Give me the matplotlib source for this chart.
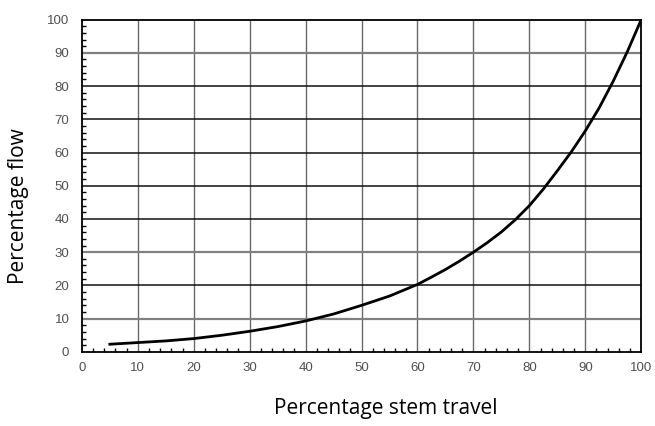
import matplotlib
import matplotlib.pyplot as plt
from matplotlib.ticker import MultipleLocator

matplotlib.use("Agg")

# stem travel (%) and flow (%)
travel = [5, 10, 15, 20, 25, 30, 35, 40, 45, 50, 55, 60, 62.5, 65, 67.5, 70,
          72.5, 75, 77.5, 80, 82.5, 85, 87.5, 90, 92.5, 95, 97.5, 100]
flow = [2.3, 2.8, 3.3, 4.0, 5.0, 6.2, 7.6, 9.3, 11.4, 14.0, 16.8, 20.3, 22.5, 24.8,
        27.3, 30.0, 32.9, 36.1, 39.8, 44.0, 49.0, 54.5, 60.2, 66.5, 73.5, 81.5,
        90.3, 100.0]

ticks = list(range(0, 101, 10))
dark_grid = [20, 40, 50, 60, 70, 80]   # horizontal lines that look black
grey_grid = [10, 30, 90]

fig = plt.figure(figsize=(6.55, 4.26), dpi=100)
ax = fig.add_axes([0.125, 0.174, 0.854, 0.780])

ax.set_xlim(0, 100)
ax.set_ylim(0, 100)

for v in ticks[1:-1]:
    ax.axvline(v, color="#6a6a6a", lw=1.0, zorder=1)
for v in dark_grid:
    ax.axhline(v, color="#111111", lw=1.1, zorder=1)
for v in grey_grid:
    ax.axhline(v, color="#808080", lw=1.6, zorder=1)

ax.plot(travel, flow, color="black", lw=2.0, zorder=3)

ax.set_xticks(ticks)
ax.set_yticks(ticks)
ax.xaxis.set_minor_locator(MultipleLocator(2))
ax.yaxis.set_minor_locator(MultipleLocator(2))
ax.tick_params(which="both", direction="in", top=False, right=False,
               labelsize=9.5, labelcolor="#505050", width=1.0)
ax.tick_params(which="major", length=0)
ax.tick_params(axis="x", which="major", pad=7)
ax.tick_params(axis="y", which="major", pad=9)
ax.tick_params(which="minor", length=3)
for lab in ax.get_xticklabels() + ax.get_yticklabels():
    lab.set_family("Liberation Sans")

for s in ax.spines.values():
    s.set_linewidth(1.3)
    s.set_color("black")

fig.text(0.589, 0.042, "Percentage stem travel", ha="center", va="center",
         fontsize=15, family="Open Sans")
fig.text(0.029, 0.516, "Percentage flow", ha="center", va="center",
         rotation=90, fontsize=15, family="Open Sans")

fig.savefig("out.png", dpi=100)
